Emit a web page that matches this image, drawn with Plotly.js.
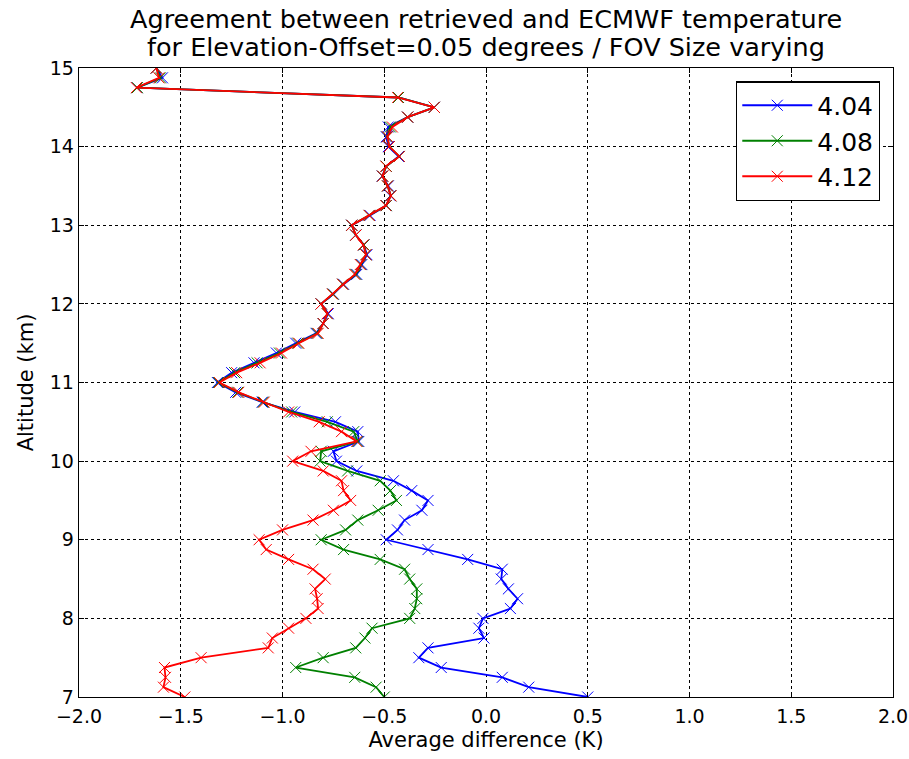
<!DOCTYPE html>
<html>
<head>
<meta charset="utf-8">
<script src="https://cdn.plot.ly/plotly-3.0.1.min.js"></script>
<style>html,body{margin:0;padding:0;background:#fff;}</style>
</head>
<body>
<div id="chart" style="width:909px;height:759px;"></div>
<script>
// Altitude levels (km)
const altitude = [
  7.0, 7.125, 7.25, 7.375, 7.5, 7.625, 7.75, 7.875,
  8.0, 8.125, 8.25, 8.375, 8.5, 8.625, 8.75, 8.875,
  9.0, 9.125, 9.25, 9.375, 9.5, 9.625, 9.75, 9.875,
  10.0, 10.125, 10.25, 10.375, 10.5, 10.625, 10.75, 10.875,
  11.0, 11.125, 11.25, 11.375, 11.5, 11.625, 11.75, 11.875,
  12.0, 12.125, 12.25, 12.375, 12.5, 12.625, 12.75, 12.875,
  13.0, 13.125, 13.25, 13.375, 13.5, 13.625, 13.75, 13.875,
  14.0, 14.125, 14.25, 14.375, 14.5, 14.625, 14.75, 14.875,
  15.0
];

// Average difference (K), FOV size 4.04
const fov404 = [
  0.50, 0.21, 0.08, -0.22, -0.33, -0.285, -0.01, -0.035,
  -0.015, 0.12, 0.155, 0.11, 0.075, 0.08, -0.09, -0.285,
  -0.49, -0.435, -0.40, -0.315, -0.285, -0.365, -0.455, -0.635,
  -0.735, -0.75, -0.625, -0.63, -0.74, -0.94, -1.10, -1.23,
  -1.32, -1.25, -1.14, -1.03, -0.935, -0.835, -0.80, -0.775,
  -0.81, -0.75, -0.70, -0.635, -0.61, -0.585, -0.60, -0.64,
  -0.66, -0.57, -0.49, -0.47, -0.48, -0.51, -0.49, -0.43,
  -0.48, -0.49, -0.48, -0.385, -0.254, -0.43, -1.715, -1.59,
  -1.62
];

// Average difference (K), FOV size 4.08
const fov408 = [
  -0.50, -0.54, -0.645, -0.935, -0.80, -0.64, -0.595, -0.56,
  -0.375, -0.35, -0.34, -0.34, -0.375, -0.40, -0.52, -0.70,
  -0.81, -0.69, -0.63, -0.53, -0.44, -0.47, -0.52, -0.68,
  -0.815, -0.81, -0.63, -0.65, -0.78, -0.955, -1.095, -1.22,
  -1.315, -1.235, -1.125, -1.015, -0.925, -0.83, -0.80, -0.78,
  -0.81, -0.752, -0.704, -0.64, -0.615, -0.59, -0.60, -0.64,
  -0.66, -0.574, -0.49, -0.468, -0.484, -0.508, -0.49, -0.426,
  -0.475, -0.485, -0.47, -0.385, -0.254, -0.43, -1.713, -1.60,
  -1.62
];

// Average difference (K), FOV size 4.12
const fov412 = [
  -1.48, -1.585, -1.575, -1.58, -1.40, -1.07, -1.05, -0.97,
  -0.885, -0.825, -0.83, -0.84, -0.79, -0.85, -0.97, -1.08,
  -1.115, -1.00, -0.85, -0.75, -0.665, -0.70, -0.71, -0.80,
  -0.95, -0.86, -0.635, -0.71, -0.82, -0.97, -1.09, -1.215,
  -1.31, -1.225, -1.11, -1.005, -0.92, -0.825, -0.80, -0.78,
  -0.81, -0.755, -0.705, -0.645, -0.618, -0.59, -0.603, -0.639,
  -0.659, -0.574, -0.492, -0.467, -0.484, -0.508, -0.492, -0.426,
  -0.475, -0.484, -0.46, -0.385, -0.254, -0.434, -1.718, -1.607,
  -1.62
];

const seriesNames = ['4.04', '4.08', '4.12'];
const seriesColors = ['#0000ff', '#008000', '#ff0000'];
const seriesValues = [fov404, fov408, fov412];
const titleLines = [
  'Agreement between retrieved and ECMWF temperature',
  'for Elevation-Offset=0.05 degrees / FOV Size varying'
];

const traces = seriesValues.map((vals, i) => ({
  type: 'scatter',
  mode: 'lines+markers',
  x: vals,
  y: altitude,
  name: seriesNames[i],
  line: {color: seriesColors[i], width: 1.8},
  marker: {symbol: 'x-thin-open', size: 11, color: seriesColors[i],
           line: {color: seriesColors[i], width: 1}},
  cliponaxis: true
}));

const axisCommon = {
  showline: true, linecolor: '#000', linewidth: 1.3, mirror: 'allticks',
  ticks: 'inside', ticklen: 5, tickwidth: 1, tickcolor: '#000',
  showgrid: true, gridcolor: '#000', griddash: 'dot', gridwidth: 1,
  zeroline: false,
  tickfont: {family: 'DejaVu Sans', size: 19, color: '#000'}
};

const layout = {
  width: 909, height: 759,
  margin: {l: 79, r: 16, t: 68, b: 62},
  paper_bgcolor: '#fff', plot_bgcolor: '#fff',
  font: {family: 'DejaVu Sans', color: '#000'},
  annotations: titleLines.map((t, i) => ({
    text: t, xref: 'paper', yref: 'paper',
    x: 0.5, xanchor: 'center',
    y: i === 0 ? 1.0778 : 1.0334, yanchor: 'middle',
    showarrow: false,
    font: {family: 'DejaVu Sans', size: 25.5, color: '#000'}
  })),
  xaxis: Object.assign({}, axisCommon, {
    range: [-2, 2], dtick: 0.5, tick0: -2, tickformat: '.1f',
    ticklabelstandoff: 2,
    title: {text: 'Average difference (K)', font: {family: 'DejaVu Sans', size: 21, color: '#000'}, standoff: 6}
  }),
  yaxis: Object.assign({}, axisCommon, {
    range: [7, 15], dtick: 1, tick0: 7,
    title: {text: 'Altitude (km)', font: {family: 'DejaVu Sans', size: 21, color: '#000'}, standoff: 10}
  }),
  showlegend: true,
  legend: {
    x: 0.984, xanchor: 'right', y: 0.979, yanchor: 'top',
    bordercolor: '#000', borderwidth: 1.3, bgcolor: '#fff',
    font: {family: 'DejaVu Sans', size: 25, color: '#000'},
    itemwidth: 70
  }
};

Plotly.newPlot('chart', traces, layout, {displayModeBar: false, staticPlot: true});
</script>
</body>
</html>
